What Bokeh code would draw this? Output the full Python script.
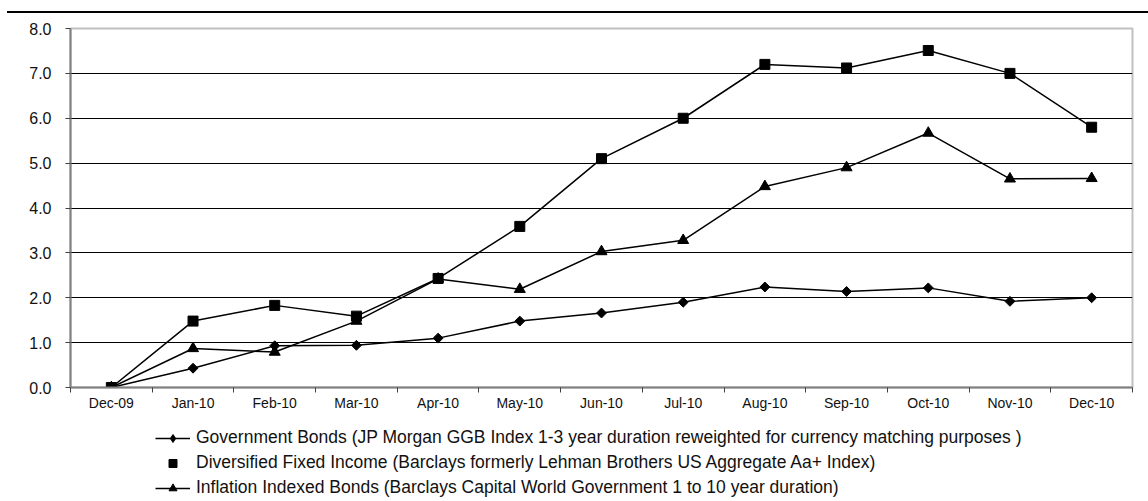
import math
from bokeh.plotting import figure
from bokeh.models import (FixedTicker, Legend, LegendItem, Div, ColumnDataSource, Range1d)
from bokeh.layouts import column
from bokeh.embed import file_html
from bokeh.resources import INLINE

months = ["Dec-09", "Jan-10", "Feb-10", "Mar-10", "Apr-10", "May-10", "Jun-10",
          "Jul-10", "Aug-10", "Sep-10", "Oct-10", "Nov-10", "Dec-10"]
gov_bonds = [0.0, 0.43, 0.93, 0.94, 1.10, 1.48, 1.66, 1.90, 2.24, 2.14, 2.22, 1.92, 2.00]
diversified = [0.0, 1.48, 1.83, 1.59, 2.43, 3.59, 5.10, 6.00, 7.20, 7.12, 7.51, 7.00, 5.80]
inflation = [0.0, 0.87, 0.79, 1.48, 2.42, 2.19, 3.03, 3.28, 4.48, 4.90, 5.67, 4.65, 4.66]
y_ticks = [0, 1, 2, 3, 4, 5, 6, 7, 8]

label_gov = "Government Bonds (JP Morgan GGB Index 1-3 year duration reweighted for currency matching purposes )"
label_div = "Diversified Fixed Income (Barclays formerly Lehman Brothers US Aggregate Aa+ Index)"
label_inf = "Inflation Indexed Bonds (Barclays Capital World Government 1 to 10 year duration)"

FONT = "Liberation Sans"
xs = list(range(len(months)))
src = ColumnDataSource(dict(x=xs, gov=gov_bonds, div=diversified, inf=inflation))

p = figure(width=1148, height=407, output_backend="svg", toolbar_location=None,
           x_range=(-0.5, len(months) - 0.5), y_range=(0, 8),
           min_border_left=70, min_border_right=16, min_border_top=15,
           min_border_bottom=33)
p.background_fill_color = "white"
p.border_fill_color = "white"
p.outline_line_color = "#c0c0c0"
p.outline_line_width = 2

xa = p.xaxis[0]
xa.ticker = FixedTicker(ticks=xs, minor_ticks=[i - 0.5 for i in range(len(months) + 1)])
xa.major_label_overrides = {i: m for i, m in enumerate(months)}
xa.major_tick_line_color = None
xa.major_tick_out = 0
xa.major_tick_in = 0
xa.minor_tick_line_color = "#404040"
xa.minor_tick_out = 5
xa.minor_tick_in = 0
xa.axis_line_color = "#808080"
xa.axis_line_width = 2
xa.major_label_text_font = FONT
xa.major_label_text_font_size = "14px"
xa.major_label_text_color = "#111111"
xa.major_label_standoff = 2

ya = p.yaxis[0]
ya.ticker = FixedTicker(ticks=y_ticks)
ya.major_label_overrides = {t: f"{t:.1f}" for t in y_ticks}
ya.major_tick_line_color = "#404040"
ya.major_tick_out = 5
ya.major_tick_in = 0
ya.minor_tick_line_color = None
ya.axis_line_color = "#808080"
ya.axis_line_width = 2
ya.major_label_text_font = FONT
ya.major_label_text_font_size = "16px"
ya.major_label_text_color = "#111111"
ya.major_label_standoff = 14

p.xgrid.grid_line_color = None
p.ygrid.ticker = FixedTicker(ticks=y_ticks[1:-1])
p.ygrid.grid_line_color = "black"
p.ygrid.grid_line_width = 1

p.line("x", "gov", source=src, line_color="black", line_width=1.5)
p.scatter("x", "gov", source=src, marker="square", size=7, angle=math.pi / 4,
          fill_color="black", line_color="black")
p.line("x", "div", source=src, line_color="black", line_width=1.5)
p.scatter("x", "div", source=src, marker="square", size=10,
          fill_color="black", line_color="black")
p.line("x", "inf", source=src, line_color="black", line_width=1.5)
p.scatter("x", "inf", source=src, marker="triangle", size=11,
          fill_color="black", line_color="black")

# legend strip below the chart: same series, ranged out of view so only the key shows
lg = figure(width=1148, height=81, output_backend="svg", toolbar_location=None,
            x_range=Range1d(-0.5, len(months) - 0.5), y_range=Range1d(100, 101),
            min_border=0, x_axis_type=None, y_axis_type=None)
lg.outline_line_color = None
lg.grid.grid_line_color = None
k_gl = lg.line("x", "gov", source=src, line_color="black", line_width=1.5)
k_gs = lg.scatter("x", "gov", source=src, marker="diamond", size=8,
                  fill_color="black", line_color="black")
k_ds = lg.scatter("x", "div", source=src, marker="square", size=8,
                  fill_color="black", line_color="black")
k_il = lg.line("x", "inf", source=src, line_color="black", line_width=1.5)
k_is = lg.scatter("x", "inf", source=src, marker="triangle", size=9,
                  fill_color="black", line_color="black")

legend = Legend(items=[
    LegendItem(label=label_gov, renderers=[k_gl, k_gs]),
    LegendItem(label=label_div, renderers=[k_ds]),
    LegendItem(label=label_inf, renderers=[k_il, k_is]),
], location=(85, 3))
legend.border_line_color = None
legend.background_fill_alpha = 0
legend.padding = 0
legend.margin = 0
legend.spacing = 4
legend.glyph_width = 35
legend.glyph_height = 20
legend.label_height = 20
legend.label_standoff = 6
legend.label_text_font = FONT
legend.label_text_font_size = "17.5px"
legend.label_text_color = "#111111"
lg.add_layout(legend, "center")

topline = Div(width=1141, height=2, margin=(11, 0, 0, 7),
              styles={"background-color": "black"})

layout = column(topline, p, lg, spacing=0)
open("out.html", "w").write(file_html(layout, INLINE))
